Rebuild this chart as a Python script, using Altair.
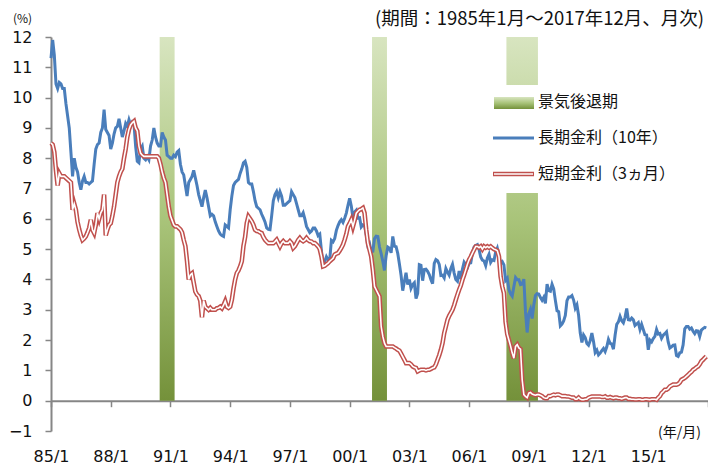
import altair as alt
import pandas as pd

# 長期金利（10年）, monthly, 1985/1 - 2017/12 (%)
long_rate = [
    11.3, 11.9, 11.4, 10.45, 10.3, 10.5, 10.45, 10.3, 10.3, 9.8, 9.4, 9.0,      # 1985
    8.2, 7.4, 8.0, 7.7, 7.55, 7.2, 6.96, 7.25, 7.4, 7.2, 7.2, 7.15,             # 1986
    7.2, 7.25, 7.8, 8.3, 8.45, 8.5, 8.85, 9.0, 9.6, 8.95, 8.85, 8.75,           # 1987
    8.3, 8.5, 8.8, 9.0, 9.05, 9.3, 9.0, 8.7, 8.9, 9.15, 9.05, 9.27,             # 1988
    9.1, 9.2, 9.15, 8.4, 7.9, 7.85, 8.3, 8.4, 8.0, 7.95, 8.05, 7.95,            # 1989
    8.4, 8.6, 9.0, 8.7, 8.5, 8.4, 8.4, 8.85, 8.7, 8.6, 8.1, 8.05,               # 1990
    8.0, 8.0, 8.1, 8.05, 8.2, 8.25, 7.8, 7.55, 7.45, 7.1, 6.75, 7.2,            # 1991
    7.3, 7.4, 7.6, 7.35, 7.1, 6.8, 6.6, 6.4, 6.7, 6.95, 6.7, 6.4,               # 1992
    6.1, 6.15, 6.1, 5.9, 5.75, 5.6, 5.5, 5.45, 5.42, 5.8, 5.75, 5.7,            # 1993
    6.3, 6.75, 7.1, 7.2, 7.25, 7.3, 7.5, 7.65, 7.85, 7.9, 7.7, 7.2,             # 1994
    7.15, 7.15, 6.9, 6.6, 6.4, 6.35, 6.3, 6.15, 6.03, 5.9, 5.7, 5.65,           # 1995
    5.64, 6.1, 6.6, 6.8, 6.9, 6.7, 6.9, 6.75, 6.45, 6.45, 6.5, 6.55,            # 1996
    6.6, 6.9, 6.8, 6.7, 6.5, 6.3, 6.1, 6.1, 6.2, 6.0, 5.75, 5.65,               # 1997
    5.55, 5.6, 5.7, 5.7, 5.6, 5.45, 5.5, 4.95, 4.45, 4.6, 4.75, 4.65,           # 1998
    4.65, 5.29, 5.24, 5.35, 5.62, 5.78, 5.90, 5.97, 5.88, 6.02, 6.19, 6.45,     # 1999
    6.68, 6.42, 6.03, 6.23, 6.29, 6.03, 6.04, 5.73, 5.80, 5.77, 5.48, 5.12,     # 2000
    5.19, 4.92, 4.93, 5.35, 5.43, 5.42, 5.07, 4.85, 4.60, 4.30, 4.78, 5.07,     # 2001
    5.03, 4.88, 5.42, 5.10, 5.08, 4.86, 4.51, 4.14, 3.63, 3.93, 4.22, 3.83,     # 2002
    4.00, 3.71, 3.83, 3.89, 3.37, 3.54, 4.49, 4.47, 3.96, 4.33, 4.34, 4.27,     # 2003
    4.16, 3.99, 3.86, 4.53, 4.66, 4.62, 4.50, 4.13, 4.14, 4.05, 4.36, 4.24,     # 2004
    4.14, 4.36, 4.50, 4.21, 4.00, 3.94, 4.28, 4.02, 4.34, 4.57, 4.49, 4.39,     # 2005
    4.53, 4.55, 4.86, 5.07, 5.12, 5.15, 4.99, 4.74, 4.64, 4.61, 4.46, 4.71,     # 2006
    4.83, 4.56, 4.65, 4.63, 4.90, 5.03, 4.78, 4.54, 4.59, 4.48, 3.97, 4.04,     # 2007
    3.67, 3.53, 3.45, 3.77, 4.06, 3.99, 3.99, 3.83, 3.85, 4.01, 2.93, 2.25,     # 2008
    2.87, 3.02, 2.71, 3.16, 3.47, 3.53, 3.52, 3.40, 3.31, 3.41, 3.21, 3.85,     # 2009
    3.63, 3.61, 3.84, 3.69, 3.31, 2.97, 2.94, 2.47, 2.53, 2.63, 2.81, 3.30,     # 2010
    3.42, 3.42, 3.47, 3.32, 3.05, 3.16, 2.82, 2.23, 1.92, 2.17, 2.08, 1.89,     # 2011
    1.83, 1.98, 2.23, 1.95, 1.59, 1.67, 1.51, 1.57, 1.65, 1.72, 1.62, 1.78,     # 2012
    2.02, 1.89, 1.87, 1.70, 2.16, 2.52, 2.60, 2.78, 2.64, 2.57, 2.75, 3.04,     # 2013
    2.67, 2.66, 2.73, 2.67, 2.48, 2.53, 2.58, 2.35, 2.52, 2.35, 2.18, 2.17,     # 2014
    1.68, 2.00, 1.94, 2.05, 2.12, 2.35, 2.20, 2.22, 2.06, 2.16, 2.21, 2.27,     # 2015
    1.94, 1.74, 1.78, 1.83, 1.84, 1.49, 1.46, 1.58, 1.60, 1.84, 2.37, 2.45,     # 2016
    2.45, 2.36, 2.40, 2.29, 2.21, 2.31, 2.30, 2.12, 2.33, 2.38, 2.42, 2.40,     # 2017
]

# 短期金利（3ヵ月）, monthly, 1985/1 - 2017/12 (%)
short_rate = [
    8.5, 8.45, 8.2, 7.6, 7.1, 7.5, 7.4, 7.4, 7.4, 7.35, 7.3, 7.25,              # 1985
    7.2, 6.3, 6.5, 6.3, 5.9, 5.65, 5.45, 5.3, 5.35, 5.42, 5.55, 5.7,            # 1986
    5.97, 5.64, 5.53, 5.8, 6.19, 6.0, 6.2, 6.3, 6.8, 5.45, 5.65, 5.8,           # 1987
    5.85, 6.1, 6.4, 6.8, 7.2, 7.4, 7.55, 7.65, 8.0, 8.3, 8.7, 8.95,             # 1988
    9.1, 9.17, 9.22, 9.0, 8.9, 8.4, 8.17, 8.1, 8.06, 8.06, 8.06, 8.06,          # 1989
    8.06, 8.06, 8.06, 8.06, 8.06, 8.0, 7.8, 7.55, 7.35, 7.2, 6.8, 6.4,          # 1990
    6.1, 5.95, 5.8, 5.75, 5.75, 5.7, 5.65, 5.55, 5.3, 5.1, 4.6, 4.0,            # 1991
    4.15, 4.2, 3.9, 3.6, 3.5, 3.45, 3.3, 2.75, 3.3, 3.1, 3.05, 3.0,             # 1992
    3.06, 3.0, 3.0, 3.0, 3.05, 3.06, 3.1, 3.05, 3.15, 3.28, 3.1, 3.06,          # 1993
    3.1, 3.33, 3.7, 4.0, 4.21, 4.3, 4.43, 4.6, 5.1, 5.4, 5.86, 6.08,            # 1994
    6.0, 5.92, 5.8, 5.64, 5.6, 5.59, 5.55, 5.53, 5.4, 5.31, 5.25, 5.2,          # 1995
    5.2, 5.2, 5.2, 5.25, 5.31, 5.2, 5.09, 5.2, 5.26, 5.2, 5.2, 5.2,             # 1996
    5.26, 5.2, 5.04, 5.1, 5.2, 5.3, 5.37, 5.3, 5.26, 5.3, 5.37, 5.3,            # 1997
    5.26, 5.25, 5.2, 5.2, 5.15, 5.09, 5.0, 4.76, 4.43, 4.45, 4.5, 4.54,         # 1998
    4.6, 4.65, 4.7, 4.82, 4.85, 4.87, 4.95, 5.04, 5.15, 5.31, 5.5, 5.75,        # 1999
    5.85, 5.97, 5.75, 5.95, 6.19, 6.25, 6.3, 6.32, 6.36, 6.19, 5.64, 5.2,       # 2000
    4.98, 4.76, 4.32, 3.77, 3.66, 3.55, 3.44, 2.45, 2.12, 1.9, 1.79, 1.79,      # 2001
    1.79, 1.79, 1.79, 1.75, 1.72, 1.68, 1.65, 1.55, 1.45, 1.35, 1.24, 1.24,     # 2002
    1.24, 1.2, 1.13, 1.1, 1.08, 0.97, 1.0, 1.02, 1.02, 1.02, 1.0, 1.02,         # 2003
    1.02, 1.05, 1.08, 1.1, 1.2, 1.35, 1.5, 1.68, 1.9, 2.23, 2.45, 2.67,         # 2004
    2.8, 2.9, 3.0, 3.15, 3.33, 3.5, 3.66, 3.8, 3.99, 4.15, 4.32, 4.5,           # 2005
    4.65, 4.75, 4.87, 4.98, 5.09, 5.09, 5.05, 5.09, 5.0, 5.09, 5.05, 5.09,      # 2006
    5.05, 5.09, 5.04, 5.0, 4.98, 4.95, 4.76, 4.1, 3.77, 3.55, 2.6, 2.2,         # 2007
    2.0, 1.8, 1.57, 1.4, 1.79, 1.85, 1.74, 1.7, 0.69, 0.2, 0.14, 0.1,           # 2008
    0.25, 0.27, 0.22, 0.2, 0.18, 0.2, 0.2, 0.18, 0.15, 0.1, 0.08, 0.08,         # 2009
    0.15, 0.15, 0.18, 0.2, 0.18, 0.2, 0.2, 0.18, 0.15, 0.15, 0.15, 0.14,        # 2010
    0.14, 0.12, 0.1, 0.1, 0.05, 0.05, 0.1, 0.05, 0.03, 0.03, 0.05, 0.05,        # 2011
    0.1, 0.12, 0.14, 0.14, 0.14, 0.14, 0.14, 0.14, 0.12, 0.12, 0.14, 0.1,       # 2012
    0.1, 0.12, 0.1, 0.08, 0.1, 0.1, 0.08, 0.08, 0.06, 0.08, 0.1, 0.1,           # 2013
    0.06, 0.06, 0.05, 0.05, 0.04, 0.04, 0.05, 0.05, 0.03, 0.03, 0.05, 0.05,     # 2014
    0.04, 0.03, 0.05, 0.05, 0.05, 0.03, 0.1, 0.15, 0.25, 0.3, 0.36, 0.36,       # 2015
    0.4, 0.47, 0.5, 0.53, 0.53, 0.53, 0.55, 0.6, 0.69, 0.72, 0.75, 0.8,         # 2016
    0.85, 0.91, 0.95, 1.02, 1.05, 1.1, 1.13, 1.2, 1.3, 1.35, 1.41, 1.46,        # 2017
]

# 景気後退期 (first and last month)
recession_start = ["1990-07", "2001-03", "2007-12"]
recession_end = ["1991-03", "2001-11", "2009-06"]

TITLE = "(期間：1985年1月～2017年12月、月次)"
LEGEND_LABELS = ["景気後退期", "長期金利（10年）", "短期金利（3ヵ月）"]

FIRST_YEAR = 1985
N_MONTHS = len(long_rate)          # 396 months
AXIS_END = N_MONTHS                # axis runs to 2018/1


def month_index(s):
    y, m = map(int, s.split("-"))
    return (y - FIRST_YEAR) * 12 + (m - 1)


df = pd.DataFrame({"m": list(range(N_MONTHS)), "long": long_rate, "short": short_rate})
rec = pd.DataFrame({
    "start": [month_index(s) - 0.5 for s in recession_start],
    "end": [month_index(e) + 0.5 for e in recession_end],
})
one = pd.DataFrame({"k": [0]})

JP = "Noto Sans CJK JP"
NUM = "DejaVu Sans"
GRAY = "#868686"
BLUE = "#4a7ebb"
RED = "#c0504d"
TXT = "#111111"

W, H = 657, 394

xscale = alt.Scale(domain=[0, AXIS_END], nice=False, zero=False)
yscale = alt.Scale(domain=[-1, 12], nice=False, zero=False)

label_expr = (
    "datum.value >= %d ? '' : pad(toString((%d + floor(datum.value / 12)) %% 100), 2, '0', 'left') + '/1'"
    % (AXIS_END, FIRST_YEAR)
)

xaxis = alt.Axis(
    values=list(range(0, AXIS_END + 1, 36)), labelExpr=label_expr, grid=False,
    offset=-H / 13.0, domainColor=GRAY, domainWidth=2, tickColor=GRAY, tickWidth=1.5,
    tickSize=6, labelFont=NUM, labelFontSize=16, labelColor=TXT, labelPadding=42,
    labelBaseline="top", labelFlush=False, labelOverlap=False,
    title="(年/月)", titleFont=JP, titleFontSize=14, titleFontWeight="normal",
    titleColor=TXT, titleX=628, titleY=32, titleAlign="center", titleBaseline="middle",
    titleAngle=0,
)
yaxis = alt.Axis(
    values=list(range(-1, 13)), grid=False, domainColor=GRAY, domainWidth=2,
    tickColor=GRAY, tickWidth=1.5, tickSize=6, labelFont=NUM, labelFontSize=16,
    labelColor=TXT, labelPadding=13, labelFlush=False,
    title="(%)", titleFont=JP, titleFontSize=12, titleFontWeight="normal",
    titleColor=TXT, titleAngle=0, titleX=-29, titleY=-19, titleAlign="center",
    titleBaseline="middle",
)


def X(field):
    return alt.X(field, type="quantitative", scale=xscale, axis=xaxis)


def Y(field):
    return alt.Y(field, type="quantitative", scale=yscale, axis=yaxis)


grad = alt.LinearGradient(
    gradient="linear",
    stops=[alt.GradientStop(color="#d8e5c0", offset=0),
           alt.GradientStop(color="#a9c47a", offset=0.5),
           alt.GradientStop(color="#74913a", offset=1)],
    x1=0, x2=0, y1=0, y2=1,
)

bars = alt.Chart(rec).mark_rect(fill=grad).encode(
    x=X("start"), x2="end", y=alt.YDatum(12, scale=yscale, axis=yaxis), y2=alt.datum(0)
)

legend_box = alt.Chart(one).mark_rect(fill="white").encode(
    x=alt.value(437), x2=alt.value(657), y=alt.value(48), y2=alt.value(156)
)

blue = alt.Chart(df).mark_line(color=BLUE, strokeWidth=3).encode(x=X("m"), y=Y("long"))
red_outer = alt.Chart(df).mark_line(color=RED, strokeWidth=4.6).encode(x=X("m"), y=Y("short"))
red_inner = alt.Chart(df).mark_line(color="white", strokeWidth=1.6).encode(x=X("m"), y=Y("short"))

sw_grad = alt.Chart(one).mark_rect(fill=grad).encode(
    x=alt.value(443), x2=alt.value(483), y=alt.value(60), y2=alt.value(72)
)
sw_blue = alt.Chart(one).mark_rule(color=BLUE, strokeWidth=3).encode(
    x=alt.value(442), x2=alt.value(483), y=alt.value(101)
)
sw_red = alt.Chart(one).mark_rule(color=RED, strokeWidth=4.6).encode(
    x=alt.value(442), x2=alt.value(483), y=alt.value(137)
)
sw_red_in = alt.Chart(one).mark_rule(color="white", strokeWidth=1.6).encode(
    x=alt.value(443), x2=alt.value(482), y=alt.value(137)
)


def legend_text(txt, ypos):
    return alt.Chart(one).mark_text(
        text=txt, font=JP, fontSize=16, color=TXT, align="left", baseline="middle"
    ).encode(x=alt.value(487), y=alt.value(ypos))


title_text = alt.Chart(one).mark_text(
    text=TITLE, font=JP, fontSize=18.5, color=TXT, align="right", baseline="middle"
).encode(x=alt.value(653), y=alt.value(-18))

chart = alt.layer(
    bars, legend_box, blue, red_outer, red_inner,
    sw_grad, sw_blue, sw_red, sw_red_in,
    legend_text(LEGEND_LABELS[0], 65),
    legend_text(LEGEND_LABELS[1], 101),
    legend_text(LEGEND_LABELS[2], 137),
    title_text,
).properties(
    width=W, height=H,
    autosize=alt.AutoSizeParams(type="none"),
    padding={"left": 43, "top": 29, "right": 0, "bottom": 37},
).configure_view(stroke=None)

chart.save("out.html", embed_options={"renderer": "svg", "actions": False})
